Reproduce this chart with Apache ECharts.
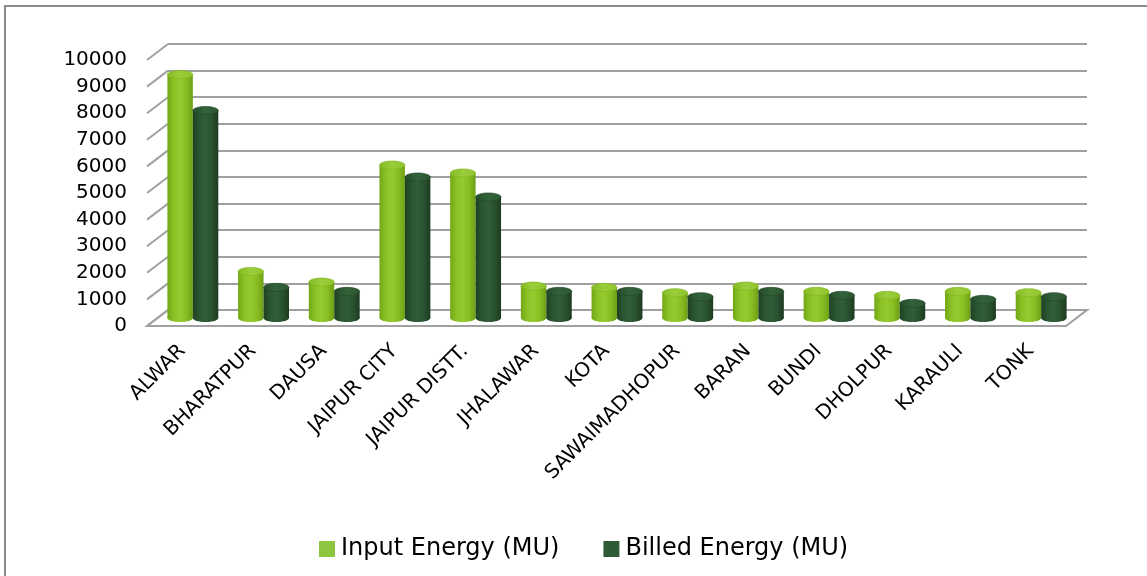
<!DOCTYPE html>
<html>
<head>
<meta charset="utf-8">
<script src="https://cdn.jsdelivr.net/npm/echarts@6/dist/echarts.min.js"></script>
<style>
  html, body { margin: 0; padding: 0; background: #fff; }
  #chart { width: 1147px; height: 576px; }
</style>
</head>
<body>
<div id="chart"></div>
<script>
// Districts and energy figures (MU)
const categories = ['ALWAR', 'BHARATPUR', 'DAUSA', 'JAIPUR CITY', 'JAIPUR DISTT.', 'JHALAWAR',
  'KOTA', 'SAWAIMADHOPUR', 'BARAN', 'BUNDI', 'DHOLPUR', 'KARAULI', 'TONK'];
const inputEnergy  = [9150, 1750, 1350, 5750, 5450, 1200, 1150, 950, 1200, 1000, 850, 1000, 950];
const billedEnergy = [7800, 1150, 1000, 5300, 4550, 1000, 1000, 800, 1000, 850, 550, 700, 800];
const seriesNames  = ['Input Energy (MU)', 'Billed Energy (MU)'];
const yMin = 0, yMax = 10000, yStep = 1000;

// Pseudo-3D layout: front plane, plus a depth vector to the back wall
const FRONT = { left: 147, top: 60, width: 919, height: 266 };
const DEPTH = [21, -16];
const gridAt = (f) => ({
  left: FRONT.left + DEPTH[0] * f, top: FRONT.top + DEPTH[1] * f,
  width: FRONT.width, height: FRONT.height
});

const GRID_COLOR = '#a0a0a0';
const FONT = 'DejaVu Sans';

// Cylinder palettes: body gradient stops, top cap colours
const palettes = [
  { legend: '#8cc63f',
    body: ['#72a616', '#8cc225', '#96cb30', '#88bd22', '#6d9f15'],
    cap: ['#86bb24', '#9bcd3c', '#8fc42c'], capStroke: '#7fb21f' },
  { legend: '#2e5b35',
    body: ['#1e4022', '#2b5631', '#315e38', '#29512f', '#1c3b20'],
    cap: ['#254a2a', '#33633a', '#2b5531'], capStroke: '#234527' }
];

function grad(stops) {
  const n = stops.length - 1;
  return {
    type: 'linear', x: 0, y: 0, x2: 1, y2: 0,
    colorStops: stops.map((c, i) => ({ offset: i / n, color: c }))
  };
}

function cylinderRenderer(seriesIdx) {
  const pal = palettes[seriesIdx];
  return function (params, api) {
    const idx = api.value(0);
    const val = api.value(1);
    const top = api.coord([idx, val]);
    const base = api.coord([idx, 0]);
    const band = api.size([1, 0])[0];
    const w = band * 0.36;
    const cx = top[0] + (seriesIdx === 0 ? -w / 2 : w / 2);
    const rx = w / 2, ry = w * 0.16;
    return {
      type: 'group',
      children: [
        { type: 'ellipse', shape: { cx: cx, cy: base[1], rx: rx, ry: ry },
          style: { fill: grad(pal.body) } },
        { type: 'rect', shape: { x: cx - rx, y: top[1], width: w, height: base[1] - top[1] },
          style: { fill: grad(pal.body) } },
        { type: 'ellipse', shape: { cx: cx, cy: top[1], rx: rx, ry: ry },
          style: { fill: grad(pal.cap), stroke: pal.capStroke, lineWidth: 0.6 } }
      ]
    };
  };
}

// Tick values for the left-side depth edges
const tickValues = [];
for (let v = yMin; v <= yMax; v += yStep) tickValues.push([0, v]);

function frameRenderer(params, api) {
  const v = api.value(1);
  const p = api.coord([0, v]);
  const children = [{
    type: 'line',
    shape: { x1: p[0], y1: p[1], x2: p[0] + DEPTH[0], y2: p[1] + DEPTH[1] },
    style: { stroke: GRID_COLOR, lineWidth: 2 }
  }];
  if (v === yMin) {
    const q = api.coord([categories.length, yMin]);
    children.push({
      type: 'polygon',
      shape: { points: [p, q, [q[0] + DEPTH[0], q[1] + DEPTH[1]], [p[0] + DEPTH[0], p[1] + DEPTH[1]]] },
      style: { fill: 'none', stroke: GRID_COLOR, lineWidth: 2 }
    });
  }
  return { type: 'group', children: children };
}

const chart = echarts.init(document.getElementById('chart'), null, { renderer: 'canvas' });

chart.setOption({
  backgroundColor: '#fff',
  animation: false,
  textStyle: { fontFamily: FONT },
  graphic: [{
    type: 'rect', silent: true, z: 100,
    shape: { x: 5, y: 6, width: 1200, height: 700 },
    style: { fill: 'none', stroke: '#8a8a8a', lineWidth: 2 }
  }],
  legend: {
    data: seriesNames,
    left: 319, top: 537, padding: 0,
    icon: 'rect', itemWidth: 16, itemHeight: 16, itemGap: 44,
    textStyle: { fontSize: 24, color: '#000', fontFamily: FONT, padding: [0, 0, 0, 1] }
  },
  grid: [gridAt(1), gridAt(0), gridAt(0.5)],
  xAxis: [
    { gridIndex: 0, type: 'value', min: 0, max: categories.length, show: false },
    { gridIndex: 1, type: 'category', data: categories,
      axisLine: { show: false }, axisTick: { show: false },
      axisLabel: { interval: 0, rotate: 45, margin: 22, fontSize: 20, color: '#000', fontFamily: FONT } },
    { gridIndex: 1, type: 'value', min: 0, max: categories.length, show: false },
    { gridIndex: 2, type: 'category', data: categories, show: false }
  ],
  yAxis: [
    { gridIndex: 0, type: 'value', min: yMin, max: yMax, interval: yStep,
      axisLabel: { show: false }, axisLine: { show: false }, axisTick: { show: false },
      splitLine: { lineStyle: { color: GRID_COLOR, width: 2 } } },
    { gridIndex: 1, type: 'value', min: yMin, max: yMax, interval: yStep,
      axisLine: { show: false }, axisTick: { show: false }, splitLine: { show: false },
      axisLabel: { margin: 20, fontSize: 20, color: '#000', fontFamily: FONT,
        formatter: (v) => String(v) } },
    { gridIndex: 2, type: 'value', min: yMin, max: yMax, show: false }
  ],
  series: [
    { type: 'custom', name: 'frame', xAxisIndex: 2, yAxisIndex: 1, silent: true, z: 1,
      data: tickValues, renderItem: frameRenderer },
    { type: 'custom', name: seriesNames[0], xAxisIndex: 3, yAxisIndex: 2, z: 5,
      itemStyle: { color: palettes[0].legend },
      encode: { x: 0, y: 1 },
      data: inputEnergy.map((v, i) => [i, v]), renderItem: cylinderRenderer(0) },
    { type: 'custom', name: seriesNames[1], xAxisIndex: 3, yAxisIndex: 2, z: 5,
      itemStyle: { color: palettes[1].legend },
      encode: { x: 0, y: 1 },
      data: billedEnergy.map((v, i) => [i, v]), renderItem: cylinderRenderer(1) }
  ]
});
</script>
</body>
</html>
